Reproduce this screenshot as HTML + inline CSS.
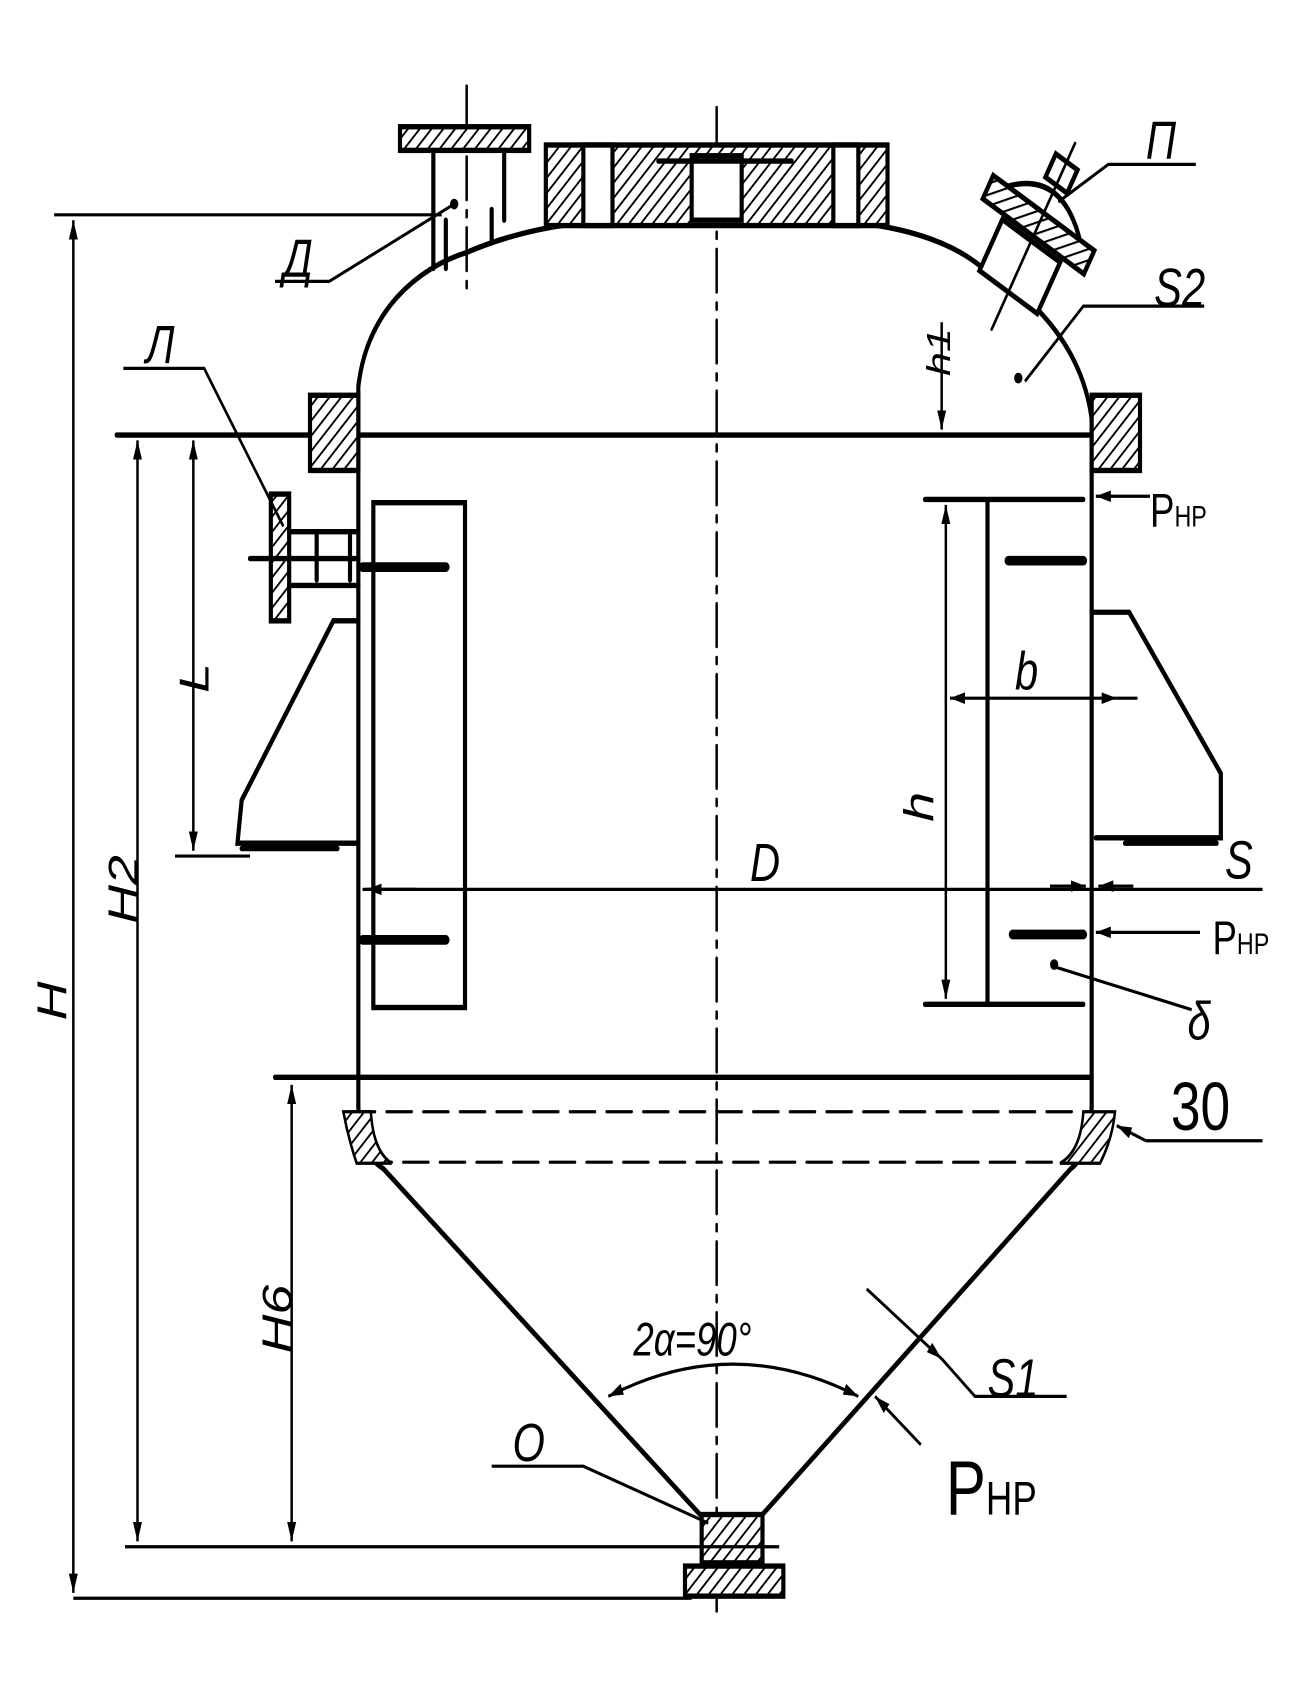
<!DOCTYPE html>
<html><head><meta charset="utf-8"><style>html,body{margin:0;padding:0;background:#fff}svg{display:block}</style></head>
<body>
<svg width="1291" height="1681" viewBox="0 0 1549.2 1565" preserveAspectRatio="none" xmlns="http://www.w3.org/2000/svg">
<defs>
<pattern id="h" patternUnits="userSpaceOnUse" width="10" height="10" patternTransform="rotate(45)"><rect width="10" height="10" fill="#fff"/><line x1="0" y1="0" x2="0" y2="10" stroke="#000" stroke-width="4"/></pattern>
<marker id="a" viewBox="0 0 10 10" refX="10" refY="5" markerWidth="6" markerHeight="6" orient="auto-start-reverse"><path d="M0,2 L10,5 L0,8z" fill="#000"/></marker>
</defs>
<g fill="none" stroke="#000" stroke-width="5" stroke-linecap="round">
<line x1="860" y1="100" x2="860" y2="1500" stroke-width="3" stroke-dasharray="40,10,6,10"/>
<line x1="560" y1="80" x2="560" y2="270" stroke-width="3" stroke-dasharray="40,10,6,10"/>
<path d="M430,400 L430,360 C440,290 500,250 560,235 Q650,205 760,205 L990,205 Q1120,210 1180,250 C1250,280 1300,330 1310,390 L1310,400"/>
<line x1="430" y1="400" x2="430" y2="1030"/>
<line x1="1310" y1="400" x2="1310" y2="1030"/>
<line x1="140" y1="405" x2="1310" y2="405"/>
<line x1="330" y1="1003" x2="1310" y2="1003"/>
<path d="M430,1030 Q432,1075 460,1088 L840,1410"/>
<path d="M1310,1030 Q1308,1075 1285,1088 L915,1410"/>
<line x1="420" y1="1035" x2="1300" y2="1035" stroke-width="3" stroke-dasharray="30,14"/>
<line x1="440" y1="1082" x2="1290" y2="1082" stroke-width="3" stroke-dasharray="30,14"/>
<rect x="655" y="135" width="410" height="75" fill="url(#h)"/>
<rect x="700" y="135" width="35" height="75" fill="#fff"/>
<rect x="1000" y="135" width="30" height="75" fill="#fff"/>
<rect x="830" y="145" width="60" height="60" fill="#fff"/>
<line x1="790" y1="150" x2="950" y2="150"/>
<rect x="480" y="118" width="155" height="22" fill="url(#h)"/>
<path d="M520,140 L520,250 M605,140 L605,205 M535,205 L535,250 M590,195 L590,225"/>
<g transform="rotate(30 1240 220)">
<rect x="1200" y="225" width="80" height="55" fill="#fff"/>
<rect x="1170" y="195" width="140" height="25" fill="url(#h)"/>
<path d="M1190,195 Q1240,150 1290,195"/>
<rect x="1225" y="140" width="30" height="25"/>
<line x1="1240" y1="120" x2="1240" y2="320" stroke-width="3"/>
</g>
<rect x="372" y="368" width="58" height="70" fill="url(#h)"/>
<rect x="1310" y="368" width="58" height="70" fill="url(#h)"/>
<rect x="448" y="468" width="110" height="470"/>
<path d="M1110,465 L1300,465 M1185,465 L1185,935 M1110,935 L1300,935"/>
<path d="M435,528 L535,528 M435,875 L535,875 M1210,522 L1300,522 M1215,870 L1300,870" stroke-width="9"/>
<rect x="325" y="460" width="22" height="118" fill="url(#h)"/>
<path d="M300,520 L430,520 M347,495 L430,495 M347,545 L430,545 M380,498 L380,540 M420,498 L420,540"/>
<path d="M430,578 L400,578 L290,745 L285,785 L430,785 M290,790 L405,790"/>
<path d="M1310,570 L1355,570 L1465,720 L1465,780 L1315,780 M1350,785 L1460,785"/>
<rect x="842" y="1410" width="73" height="45" fill="url(#h)"/>
<rect x="822" y="1458" width="118" height="28" fill="url(#h)"/>
<path d="M412,1035 L445,1035 Q448,1072 470,1083 L428,1083 Q418,1060 412,1035z" fill="url(#h)" stroke-width="3"/>
<path d="M1338,1035 L1300,1035 Q1297,1072 1272,1083 L1320,1083 Q1335,1060 1338,1035z" fill="url(#h)" stroke-width="3"/>
</g>
<g stroke="#000" stroke-width="3" fill="none">
<line x1="65" y1="200" x2="530" y2="200"/>
<line x1="88" y1="205" x2="88" y2="1483" marker-start="url(#a)" marker-end="url(#a)"/>
<line x1="88" y1="1488" x2="830" y2="1488"/>
<line x1="165" y1="410" x2="165" y2="1435" marker-start="url(#a)" marker-end="url(#a)"/>
<line x1="150" y1="1440" x2="935" y2="1440"/>
<line x1="232" y1="410" x2="232" y2="792" marker-start="url(#a)" marker-end="url(#a)"/>
<line x1="210" y1="797" x2="300" y2="797"/>
<line x1="350" y1="1010" x2="350" y2="1435" marker-start="url(#a)" marker-end="url(#a)"/>
<line x1="1130" y1="300" x2="1130" y2="400" marker-end="url(#a)"/>
<line x1="1135" y1="470" x2="1135" y2="930" marker-start="url(#a)" marker-end="url(#a)"/>
<line x1="1140" y1="650" x2="1340" y2="650" marker-start="url(#a)" marker-end="url(#a)"/>
<line x1="1340" y1="650" x2="1365" y2="650"/>
<line x1="435" y1="828" x2="1515" y2="828"/>
<line x1="500" y1="828" x2="440" y2="828" marker-end="url(#a)"/>
<line x1="1260" y1="825" x2="1303" y2="825" marker-end="url(#a)"/>
<line x1="1360" y1="825" x2="1318" y2="825" marker-end="url(#a)"/>
<line x1="1380" y1="462" x2="1315" y2="462" marker-end="url(#a)"/>
<line x1="1440" y1="868" x2="1315" y2="868" marker-end="url(#a)"/>
<line x1="1375" y1="1062" x2="1340" y2="1048" marker-end="url(#a)"/>
<line x1="1375" y1="1062" x2="1515" y2="1062"/>
<line x1="1105" y1="1345" x2="1050" y2="1300" marker-end="url(#a)"/>
<line x1="1040" y1="1200" x2="1130" y2="1265" marker-end="url(#a)"/>
<path d="M1130,1265 L1170,1300 L1280,1300"/>
<path d="M730,1300 Q880,1240 1030,1300" marker-start="url(#a)" marker-end="url(#a)"/>
<path d="M148,343 L245,343 L340,490"/>
<path d="M330,262 L395,262 L545,190"/>
<path d="M1230,355 L1300,285 L1445,285"/>
<path d="M1270,188 L1330,153 L1435,153"/>
<path d="M1265,900 L1430,940"/>
<path d="M590,1365 L700,1365 L850,1418"/>
</g>
<circle cx="1222" cy="352" r="5"/><circle cx="1265" cy="898" r="5"/><circle cx="545" cy="190" r="5"/>
<g font-family="Liberation Sans, sans-serif" font-style="italic" font-size="50" fill="#000">
<text x="40" y="930" transform="rotate(-90 70 920)">H</text>
<text x="125" y="860" transform="rotate(-90 145 840)">H2</text>
<text x="290" y="1260" transform="rotate(-90 320 1230)">H6</text>
<text x="215" y="650" transform="rotate(-90 230 630)">L</text>
<text x="1075" y="760" transform="rotate(-90 1100 740)">h</text>
<text x="1090" y="360" transform="rotate(-90 1110 330)" font-size="40">h1</text>
<text x="1218" y="642">b</text>
<text x="900" y="820">D</text>
<text x="1470" y="818">S</text>
<text x="1385" y="285">S2</text>
<text x="1185" y="1300">S1</text>
<text x="1375" y="148">П</text>
<text x="175" y="338">Л</text>
<text x="340" y="258">Д</text>
<text x="615" y="1360">O</text>
<text x="1425" y="968">δ</text>
<text x="760" y="1262" font-size="44">2α=90°</text>
</g>
<g font-family="Liberation Sans, sans-serif" fill="#000">
<text x="1380" y="490" font-size="44">Р<tspan font-size="28">НР</tspan></text>
<text x="1455" y="888" font-size="44">Р<tspan font-size="28">НР</tspan></text>
<text x="1135" y="1410" font-size="72">Р<tspan font-size="44">НР</tspan></text>
<text x="1405" y="1052" font-size="64">30</text>
</g>
</svg>
</body></html>
